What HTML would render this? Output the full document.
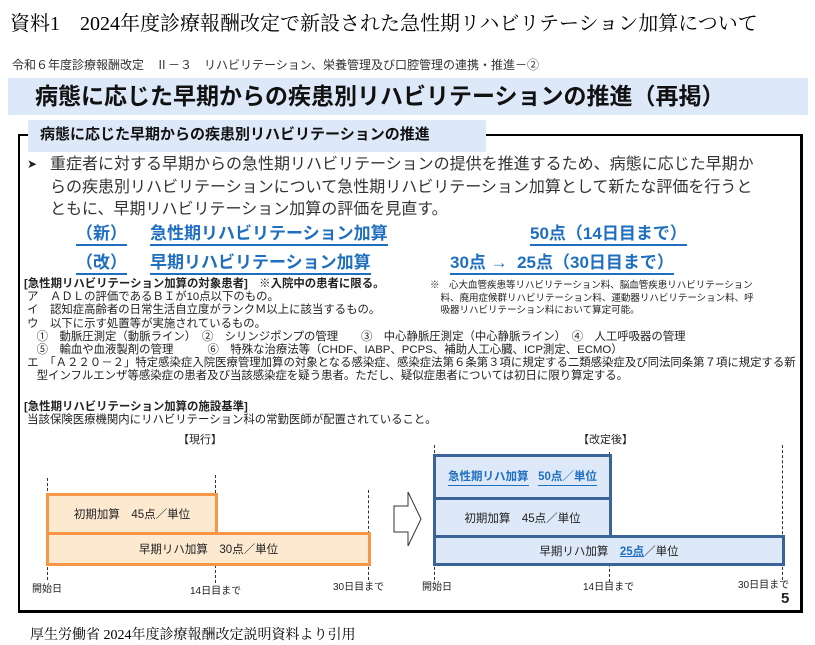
<!DOCTYPE html>
<html><head><meta charset="utf-8"><style>
body{margin:0;width:815px;height:645px;background:#fff;position:relative;overflow:hidden;font-family:"Liberation Sans","Noto Sans CJK JP",sans-serif;color:#222}
.a{position:absolute;white-space:nowrap}
.b{color:#1f6fc0;font-weight:bold;font-size:17px}
.u{border-bottom:2px solid #1f6fc0;padding-bottom:1px}
.s{font-size:11.4px;line-height:13.2px}
.tick{position:absolute;border-left:1.5px dashed #333;width:0}
.ob{position:absolute;border:3px solid #f79646;background:#fde9d0;box-sizing:border-box;font-size:11.5px;display:flex;align-items:center;justify-content:center}
.bb{position:absolute;border:3px solid #3a6497;background:#dde9f9;box-sizing:border-box;font-size:11.5px;display:flex;align-items:center;justify-content:center}
.lb{position:absolute;font-size:10px;white-space:nowrap}
</style></head><body>
<div class="a" style="left:10px;top:7px;font-size:20px;font-family:'Liberation Serif','Noto Serif CJK SC',serif;color:#000">資料1　2024年度診療報酬改定で新設された急性期リハビリテーション加算について</div>
<div class="a" style="left:12px;top:56px;font-size:12px;color:#333">令和６年度診療報酬改定　Ⅱ－３　リハビリテーション、栄養管理及び口腔管理の連携・推進－②</div>
<div class="a" style="left:8px;top:78px;width:800px;height:37px;background:#dde8f8"></div>
<div class="a" style="left:35px;top:80px;font-size:23px;font-weight:bold;color:#111;line-height:32px">病態に応じた早期からの疾患別リハビリテーションの推進（再掲）</div>
<div class="a" style="left:18px;top:134px;width:780px;height:474px;border:2px solid #000;border-right-width:3px;border-bottom-width:3px"></div>
<div class="a" style="left:28px;top:120px;width:458px;height:32px;background:#dde8f8"></div>
<div class="a" style="left:40px;top:124px;font-size:15px;font-weight:bold;line-height:22px;color:#111">病態に応じた早期からの疾患別リハビリテーションの推進</div>
<div class="a" style="left:27px;top:157px;font-size:12px">➤</div>
<div class="a" style="left:50px;top:154px;font-size:16px;line-height:22.5px;color:#333">重症者に対する早期からの急性期リハビリテーションの提供を推進するため、病態に応じた早期か<br>らの疾患別リハビリテーションについて急性期リハビリテーション加算として新たな評価を行うと<br>ともに、早期リハビリテーション加算の評価を見直す。</div>
<div class="a b" style="left:76px;top:219px"><span class="u">（新）</span></div>
<div class="a b" style="left:150px;top:219px"><span class="u">急性期リハビリテーション加算</span></div>
<div class="a b" style="left:530px;top:219px"><span class="u">50点（14日目まで）</span></div>
<div class="a b" style="left:76px;top:248px"><span class="u">（改）</span></div>
<div class="a b" style="left:150px;top:248px"><span class="u">早期リハビリテーション加算</span></div>
<div class="a b" style="left:450px;top:248px"><span class="u">30点 →&nbsp; 25点（30日目まで）</span></div>
<div class="a s" style="left:24px;top:278px"><b>[急性期リハビリテーション加算の対象患者]　※入院中の患者に限る。</b><br>&nbsp;ア　ＡＤＬの評価であるＢＩが10点以下のもの。<br>&nbsp;イ　認知症高齢者の日常生活自立度がランクＭ以上に該当するもの。<br>&nbsp;ウ　以下に示す処置等が実施されているもの。<br>&nbsp;&nbsp;&nbsp;&nbsp;①　動脈圧測定（動脈ライン）　②　シリンジポンプの管理　　③　中心静脈圧測定（中心静脈ライン）　④　人工呼吸器の管理<br>&nbsp;&nbsp;&nbsp;&nbsp;⑤　輸血や血液製剤の管理　　　⑥　特殊な治療法等（CHDF、IABP、PCPS、補助人工心臓、ICP測定、ECMO）<br>&nbsp;エ　「Ａ２２０－２」特定感染症入院医療管理加算の対象となる感染症、感染症法第６条第３項に規定する二類感染症及び同法同条第７項に規定する新<br>&nbsp;&nbsp;&nbsp;&nbsp;型インフルエンザ等感染症の患者及び当該感染症を疑う患者。ただし、疑似症患者については初日に限り算定する。</div>
<div class="a s" style="left:24px;top:401px"><b>[急性期リハビリテーション加算の施設基準]</b><br>&nbsp;当該保険医療機関内にリハビリテーション科の常勤医師が配置されていること。</div>
<div class="a" style="left:430px;top:280px;font-size:9.5px;line-height:12.5px">※　心大血管疾患等リハビリテーション料、脳血管疾患リハビリテーション<br>&nbsp;&nbsp;&nbsp;&nbsp;料、廃用症候群リハビリテーション料、運動器リハビリテーション料、呼<br>&nbsp;&nbsp;&nbsp;&nbsp;吸器リハビリテーション料において算定可能。</div>
<div class="a" style="left:178px;top:431px;font-size:11px">【現行】</div>
<div class="a" style="left:578px;top:431px;font-size:11px">【改定後】</div>
<div class="tick" style="left:47px;top:478px;height:102px"></div>
<div class="tick" style="left:215px;top:475px;height:108px"></div>
<div class="tick" style="left:368px;top:490px;height:90px"></div>
<div class="ob" style="left:46px;top:493px;width:172px;height:42px">初期加算　45点／単位</div>
<div class="ob" style="left:46px;top:532px;width:325px;height:34px">早期リハ加算　30点／単位</div>
<div class="lb" style="left:32px;top:580px">開始日</div>
<div class="lb" style="left:190px;top:582px">14日目まで</div>
<div class="lb" style="left:333px;top:578px">30日目まで</div>
<svg class="a" style="left:392px;top:490px" width="32" height="58"><polygon points="2,16 16,16 16,2 29,29 16,56 16,42 2,42" fill="#fff" stroke="#333" stroke-width="1"/></svg>
<div class="tick" style="left:434px;top:445px;height:135px"></div>
<div class="tick" style="left:609px;top:452px;height:130px"></div>
<div class="tick" style="left:782px;top:445px;height:135px"></div>
<div class="bb" style="left:433px;top:454px;width:179px;height:46px;color:#1f6fc0;font-weight:bold"><span class="u" style="border-width:1px">急性期リハ加算</span>&nbsp;&nbsp;&nbsp;<span class="u" style="border-width:1px">50点／単位</span></div>
<div class="bb" style="left:433px;top:497px;width:179px;height:41px">初期加算　45点／単位</div>
<div class="bb" style="left:433px;top:535px;width:352px;height:31px">早期リハ加算　<b style="color:#1f6fc0;text-decoration:underline">25点</b>／単位</div>
<div class="lb" style="left:422px;top:578px">開始日</div>
<div class="lb" style="left:583px;top:578px">14日目まで</div>
<div class="lb" style="left:738px;top:576px">30日目まで</div>
<div class="a" style="left:781px;top:590px;font-size:15px;font-weight:bold">5</div>
<div class="a" style="left:30px;top:624px;font-size:14px;font-family:'Liberation Serif','Noto Serif CJK SC',serif;color:#000">厚生労働省 2024年度診療報酬改定説明資料より引用</div>
</body></html>
